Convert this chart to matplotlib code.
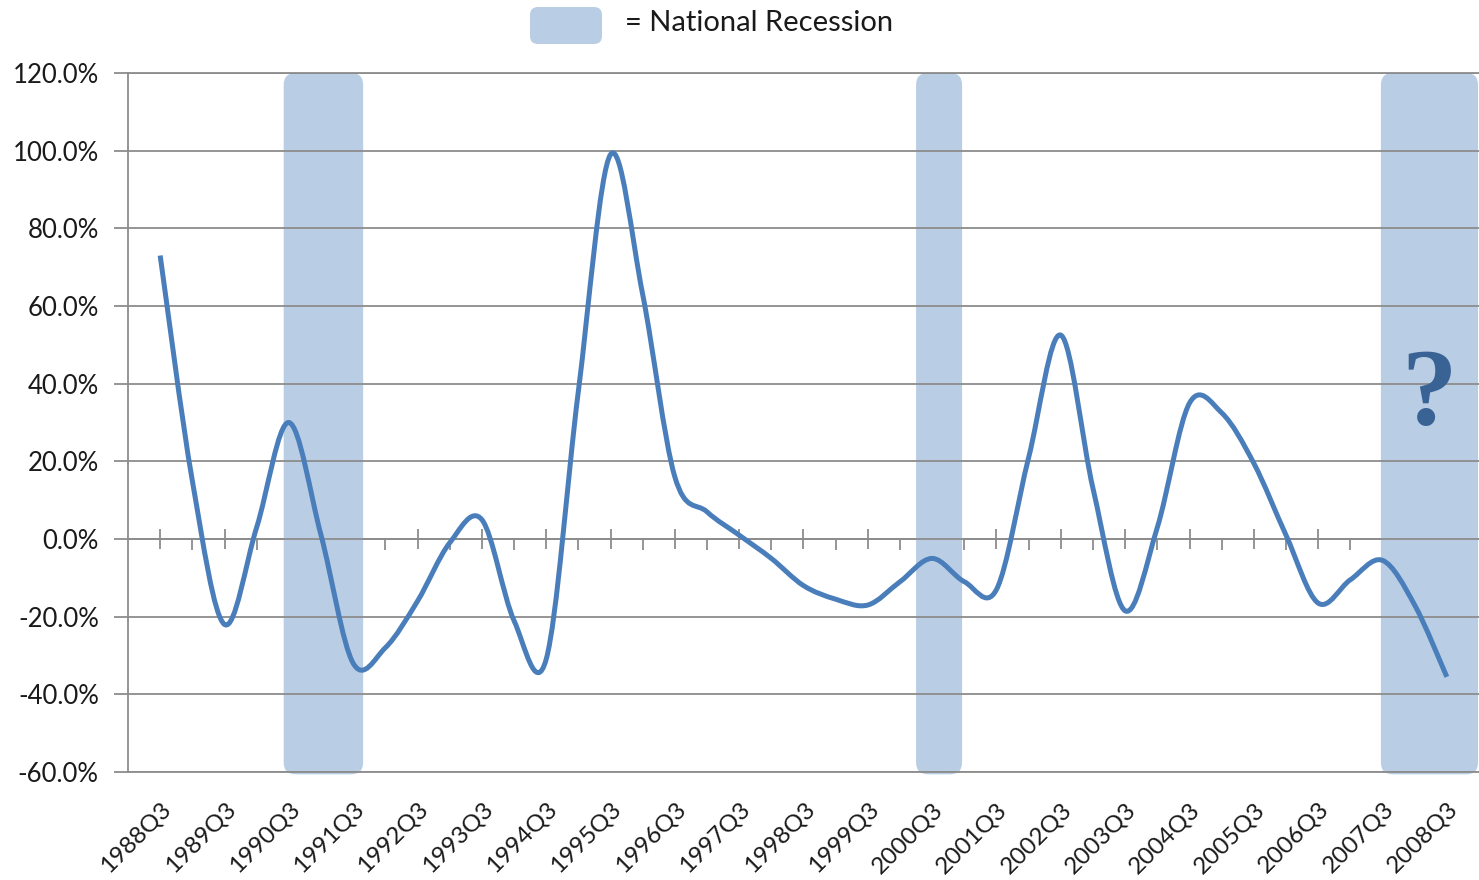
import matplotlib
matplotlib.use('Agg')
import matplotlib.pyplot as plt
from matplotlib.patches import FancyBboxPatch, PathPatch
from matplotlib.path import Path

plt.rcParams['font.family'] = ['Lato', 'DejaVu Sans']

# Half-year observations, 1988Q3 .. 2008Q3 (Q3 and Q1 alternate)
periods = []
for yr in range(1988, 2009):
    periods.append(f'{yr}Q3')
    if yr < 2008:
        periods.append(f'{yr + 1}Q1')

# year-over-year change, percent
values = [73, 15, -22, 3, 30, 1, -32, -28, -16, -1,
          5, -21, -31, 38, 99, 63, 16, 7, 1, -5,
          -12, -15.5, -17, -11, -5, -11, -13, 21, 52.5, 13,
          -18.5, 3, 35, 32.5, 19.5, 1, -16.5, -10.5, -5.5, -17, -35.5]

# recession shading, in category positions (start, end)
recessions = [(3.84, 6.31), (23.5, 24.93), (37.95, 40.97)]

LINE_COLOR = '#4A7EBB'
BAND_COLOR = '#B9CDE5'
GRID_COLOR = '#8C8C8C'
Y_MIN, Y_MAX = -60, 120

W, H = 1479, 880
fig = plt.figure(figsize=(W / 100, H / 100), dpi=100)
ax_l, ax_b, ax_w, ax_h = 128 / W, 1 - 772 / H, 1351 / W, 699 / H
ax = fig.add_axes([ax_l, ax_b, ax_w, ax_h])

x = list(range(len(values)))
ax.set_xlim(-1, len(values))
ax.set_ylim(Y_MIN, Y_MAX)

# pixels per data unit, used to keep the band corners round
xpu = ax_w * W / (len(values) + 1)
ypu = ax_h * H / (Y_MAX - Y_MIN)
r_px = 12
for x0, x1 in recessions:
    band = FancyBboxPatch((x0, Y_MIN - 0.6), x1 - x0, Y_MAX - Y_MIN + 0.6,
                          boxstyle=f'round,pad=0,rounding_size={r_px / xpu}',
                          mutation_aspect=xpu / ypu,
                          fc=BAND_COLOR, ec='none', zorder=0.2, clip_on=False)
    ax.add_patch(band)

# smoothed line (Excel style: Catmull-Rom as cubic Bezier)
pts = list(zip(x, values))
n = len(pts)
verts = [pts[0]]
codes = [Path.MOVETO]
for i in range(n - 1):
    p0 = pts[max(i - 1, 0)]
    p1 = pts[i]
    p2 = pts[i + 1]
    p3 = pts[min(i + 2, n - 1)]
    c1 = (p1[0] + (p2[0] - p0[0]) / 6, p1[1] + (p2[1] - p0[1]) / 6)
    c2 = (p2[0] - (p3[0] - p1[0]) / 6, p2[1] - (p3[1] - p1[1]) / 6)
    verts += [c1, c2, p2]
    codes += [Path.CURVE4] * 3
ax.add_patch(PathPatch(Path(verts, codes), fill=False, ec=LINE_COLOR,
                       lw=3.6, capstyle='butt', joinstyle='round', zorder=3))

# y axis
ax.set_yticks(range(Y_MIN, Y_MAX + 1, 20))
ax.set_yticklabels([f'{v:.1f}%' for v in range(Y_MIN, Y_MAX + 1, 20)])
ax.yaxis.grid(True, color=GRID_COLOR, lw=1.3)
ax.set_axisbelow(True)
ax.tick_params(axis='y', direction='out', length=10, width=1.3,
               color=GRID_COLOR, labelsize=18.5, pad=11, labelcolor='#1a1a1a')

for side in ['left', 'bottom', 'top']:
    ax.spines[side].set_color(GRID_COLOR)
    ax.spines[side].set_linewidth(1.3)
ax.spines['right'].set_visible(False)

# category labels along the bottom
ax.set_xticks(x[::2])
ax.set_xticklabels(periods[::2], rotation=45, ha='right', va='top',
                   rotation_mode='anchor')
ax.tick_params(axis='x', length=0, labelsize=17.5, pad=19, labelcolor='#1a1a1a')

# tick marks on the zero line
zero = ax.secondary_xaxis((0 - Y_MIN) / (Y_MAX - Y_MIN))
zero.xaxis.set_ticks_position('bottom')
zero.set_xticks(x[::2])
zero.set_xticks(x[1::2], minor=True)
zero.tick_params(which='major', direction='inout', length=15, width=1.3,
                 color=GRID_COLOR, labelbottom=False, labeltop=False)
zero.tick_params(which='minor', direction='out', length=8, width=1.3,
                 color=GRID_COLOR, labelbottom=False, labeltop=False)
for s in zero.spines.values():
    s.set_color(GRID_COLOR)
    s.set_linewidth(1.3)

ax.text(39.45, 36.5, '?', family=['Liberation Serif', 'DejaVu Serif'],
        weight='bold', fontsize=80, color='#3A6395', ha='center', va='center',
        zorder=4)

# legend swatch at the top
sw_r = 8
fig.add_artist(FancyBboxPatch((530 / W, 1 - 44 / H), 72 / W, 37 / H,
                              boxstyle=f'round,pad=0,rounding_size={sw_r / W}',
                              mutation_aspect=W / H, transform=fig.transFigure,
                              fc=BAND_COLOR, ec='none'))
fig.text(625 / W, 1 - 23 / H, '= National Recession', fontsize=21,
         color='#1a1a1a', ha='left', va='center')

fig.savefig('out.png', dpi=100)
